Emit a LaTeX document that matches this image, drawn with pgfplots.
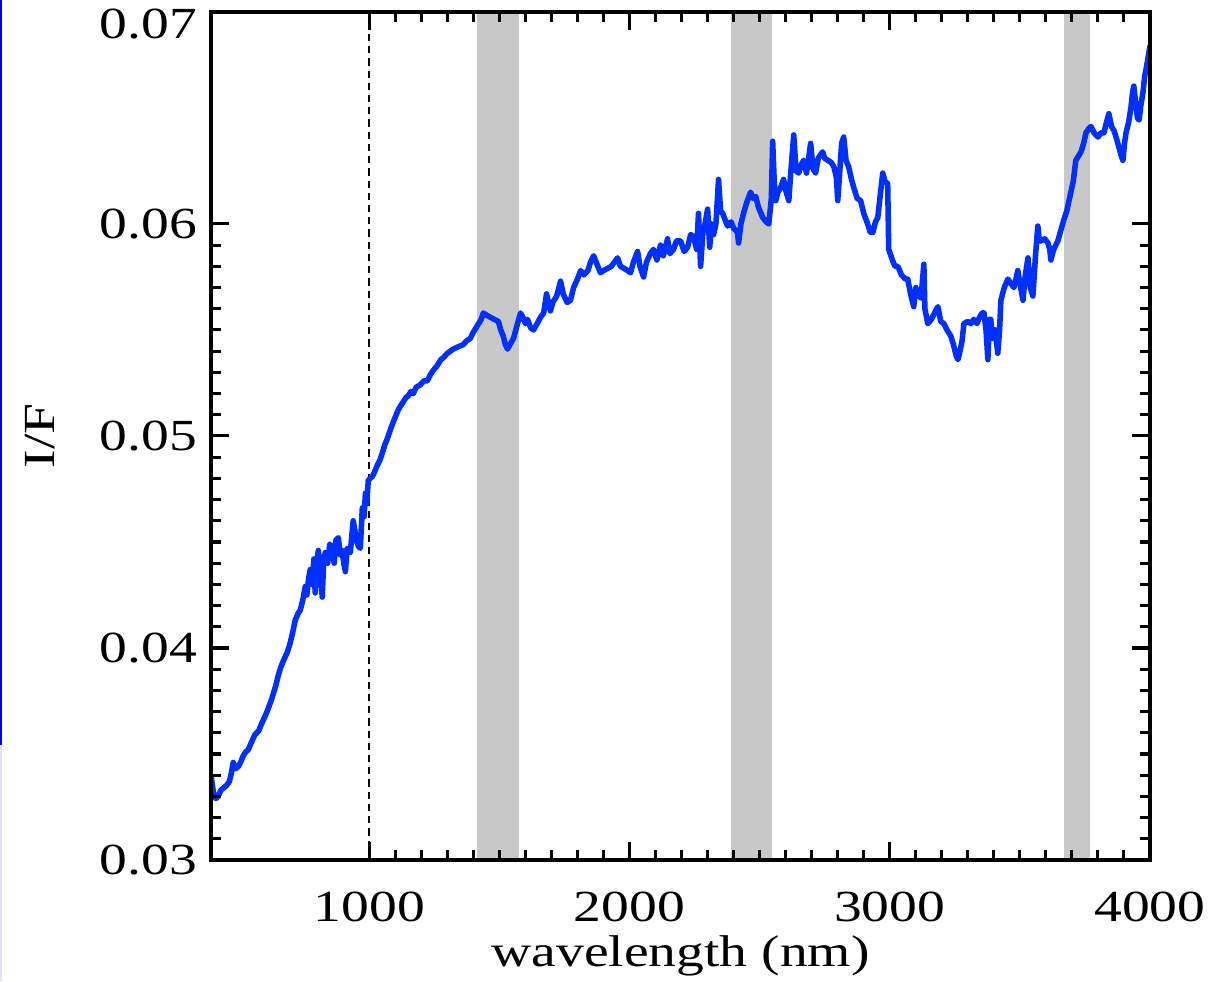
\documentclass[border=0pt]{standalone}
\usepackage{fontspec}
\setmainfont{Liberation Serif}[FakeStretch=1.25]
\usepackage{pgfplots}
\pgfplotsset{compat=1.18}
\definecolor{specblue}{RGB}{0,48,255}
\definecolor{bandgray}{RGB}{200,200,200}
\begin{document}
\begin{tikzpicture}[font=\fontsize{16}{19}\selectfont]
\path[use as bounding box] (-76pt,-43.6pt) rectangle (361.4pt,309.6pt);
\begin{axis}[
  at={(0,0)}, anchor=south west,
  scale only axis, width=338pt, height=305.3pt,
  xmin=392, xmax=4000, ymin=0.03, ymax=0.07,
  xtick={1000,2000,3000,4000},
  xticklabels={1000,2000,3000,4000},
  ytick={0.03,0.04,0.05,0.06},
  yticklabels={0.03,0.04,0.05,0.06},
  extra y ticks={0.07},
  extra y tick labels={0.07},
  extra y tick style={yticklabel style={yshift=-4.3pt}},
  minor x tick num=9, minor y tick num=9,
  tick align=inside,
  major tick length=6.6pt, minor tick length=3.6pt,
  every tick/.style={black, line width=1.1pt},
  axis line style={line width=1.4pt},
  axis on top,
  xticklabel style={anchor=base, yshift=-22.3pt},
  yticklabel style={xshift=-1.5pt},
  xlabel={wavelength (nm)},
  ylabel={I/F},
  every axis x label/.style={at={(axis description cs:0.5,-0.1261)}, anchor=base},
  every axis y label/.style={at={(axis description cs:-0.182,0.5)}, anchor=center, rotate=90},
]
\fill[bandgray] (axis cs:1415,0.03) rectangle (axis cs:1577,0.07);
\fill[bandgray] (axis cs:2388,0.03) rectangle (axis cs:2546,0.07);
\fill[bandgray] (axis cs:3669,0.03) rectangle (axis cs:3769,0.07);
\addplot[black, line width=0.7pt, dash pattern=on 2.6pt off 1.8pt] coordinates {(1000,0.03) (1000,0.07)};
\addplot[specblue, line width=2pt, line join=round] table {
x y
392 0.0340
396 0.0336
402 0.0331
410 0.0329
419 0.0330
430 0.0333
440 0.0334
450 0.0335
462 0.0337
470 0.0341
477 0.0346
485 0.0343
496 0.0344
505 0.0346
515 0.0349
525 0.0351
535 0.0352
545 0.0355
560 0.0359
575 0.0361
585 0.0364
600 0.0368
610 0.0371
625 0.0376
640 0.0382
650 0.0387
660 0.0391
670 0.0394
685 0.0398
695 0.0402
705 0.0407
715 0.0413
725 0.0416
735 0.0418
745 0.0423
754 0.0429
760 0.0425
767 0.0433
773 0.0437
780 0.0430
787 0.0442
792 0.0426
798 0.0440
804 0.0446
812 0.0436
819 0.0424
825 0.0442
831 0.0445
840 0.0440
848 0.0449
858 0.0447
865 0.0440
872 0.0451
881 0.0452
888 0.0444
895 0.0446
902 0.0440
908 0.0436
915 0.0447
927 0.0445
932 0.0452
938 0.0460
945 0.0455
952 0.0450
958 0.0448
965 0.0447
970 0.0458
973 0.0466
980 0.0462
985 0.0473
990 0.0468
996 0.0479
1003 0.0480
1012 0.0481
1020 0.0483
1030 0.0486
1042 0.0489
1050 0.0492
1060 0.0496
1070 0.0499
1081 0.0503
1090 0.0506
1100 0.0509
1110 0.0512
1119 0.0514
1130 0.0516
1140 0.0518
1150 0.0519
1160 0.0521
1169 0.0520
1180 0.0523
1195 0.0524
1210 0.0526
1223 0.0526
1235 0.0529
1246 0.0531
1260 0.0533
1275 0.0536
1285 0.0537
1300 0.0539
1323 0.0541
1340 0.0542
1360 0.0543
1375 0.0545
1388 0.0546
1400 0.0549
1415 0.0552
1430 0.0555
1438 0.0558
1450 0.0557
1465 0.0556
1480 0.0555
1496 0.0554
1505 0.0550
1515 0.0547
1523 0.0543
1531 0.0541
1540 0.0543
1554 0.0546
1565 0.0551
1581 0.0558
1590 0.0556
1600 0.0553
1608 0.0555
1620 0.0551
1631 0.0550
1645 0.0553
1658 0.0556
1670 0.0558
1681 0.0567
1690 0.0562
1696 0.0559
1705 0.0563
1720 0.0566
1735 0.0573
1745 0.0567
1760 0.0563
1773 0.0564
1785 0.0570
1800 0.0574
1812 0.0578
1825 0.0576
1840 0.0578
1850 0.0582
1862 0.0585
1875 0.0581
1888 0.0577
1900 0.0578
1915 0.0579
1930 0.0580
1942 0.0582
1954 0.0584
1965 0.0580
1980 0.0579
1992 0.0578
2004 0.0577
2015 0.0582
2031 0.0587
2040 0.0580
2054 0.0575
2065 0.0582
2080 0.0586
2092 0.0588
2105 0.0583
2119 0.0590
2130 0.0585
2146 0.0593
2155 0.0586
2169 0.0588
2180 0.0592
2196 0.0592
2210 0.0587
2223 0.0589
2235 0.0595
2246 0.0594
2258 0.0588
2265 0.0605
2273 0.0580
2282 0.0596
2290 0.0600
2300 0.0607
2308 0.0589
2315 0.0600
2323 0.0595
2332 0.0600
2342 0.0621
2350 0.0606
2358 0.0605
2367 0.0602
2377 0.0599
2390 0.0601
2400 0.0598
2415 0.0596
2419 0.0591
2428 0.0600
2438 0.0605
2450 0.0610
2465 0.0615
2475 0.0612
2485 0.0613
2495 0.0608
2505 0.0605
2512 0.0603
2525 0.0601
2535 0.0600
2545 0.0612
2550 0.0639
2556 0.0620
2562 0.0611
2570 0.0615
2580 0.0617
2592 0.0621
2600 0.0616
2612 0.0611
2620 0.0625
2631 0.0642
2640 0.0625
2650 0.0624
2660 0.0628
2669 0.0630
2680 0.0624
2696 0.0638
2705 0.0626
2715 0.0624
2725 0.0631
2742 0.0634
2750 0.0631
2762 0.0630
2775 0.0629
2785 0.0627
2795 0.0622
2800 0.0611
2808 0.0625
2815 0.0638
2823 0.0641
2832 0.0630
2842 0.0627
2853 0.0621
2862 0.0617
2875 0.0612
2888 0.0611
2900 0.0605
2915 0.0600
2925 0.0596
2935 0.0596
2945 0.0601
2954 0.0603
2962 0.0612
2973 0.0624
2982 0.0620
2992 0.0619
2996 0.0588
3010 0.0583
3020 0.0580
3031 0.0580
3045 0.0576
3060 0.0574
3069 0.0574
3080 0.0567
3092 0.0561
3100 0.0570
3108 0.0567
3120 0.0565
3131 0.0581
3135 0.0560
3146 0.0553
3160 0.0555
3172 0.0558
3185 0.0561
3196 0.0554
3208 0.0553
3220 0.0550
3235 0.0547
3245 0.0543
3255 0.0538
3262 0.0536
3270 0.0540
3278 0.0545
3285 0.0553
3300 0.0554
3312 0.0553
3323 0.0555
3335 0.0553
3345 0.0556
3355 0.0558
3362 0.0558
3370 0.0550
3377 0.0536
3383 0.0555
3388 0.0555
3395 0.0546
3405 0.0550
3415 0.0539
3422 0.0550
3427 0.0564
3440 0.0570
3454 0.0574
3465 0.0572
3477 0.0570
3485 0.0574
3492 0.0578
3500 0.0572
3512 0.0564
3520 0.0575
3531 0.0584
3540 0.0570
3550 0.0566
3560 0.0585
3569 0.0599
3575 0.0592
3581 0.0592
3595 0.0593
3608 0.0591
3615 0.0588
3619 0.0583
3630 0.0588
3646 0.0592
3655 0.0596
3669 0.0602
3680 0.0606
3696 0.0615
3705 0.0620
3715 0.0630
3725 0.0632
3735 0.0634
3745 0.0638
3754 0.0643
3765 0.0645
3773 0.0646
3785 0.0643
3800 0.0641
3812 0.0643
3823 0.0643
3833 0.0648
3842 0.0652
3852 0.0646
3862 0.0644
3872 0.0640
3881 0.0636
3890 0.0632
3896 0.0630
3902 0.0638
3908 0.0643
3918 0.0648
3927 0.0655
3933 0.0662
3938 0.0665
3945 0.0657
3952 0.0650
3958 0.0649
3965 0.0656
3973 0.0662
3980 0.0670
3985 0.0673
3992 0.0678
4000 0.0684
};
\end{axis}
\draw[blue, line width=0.8pt] (-75.6pt,309.6pt) -- (-75.6pt,41.4pt);
\draw[blue!12, line width=0.8pt] (-75.6pt,41.4pt) -- (-75.6pt,-43.6pt);
\end{tikzpicture}
\end{document}
